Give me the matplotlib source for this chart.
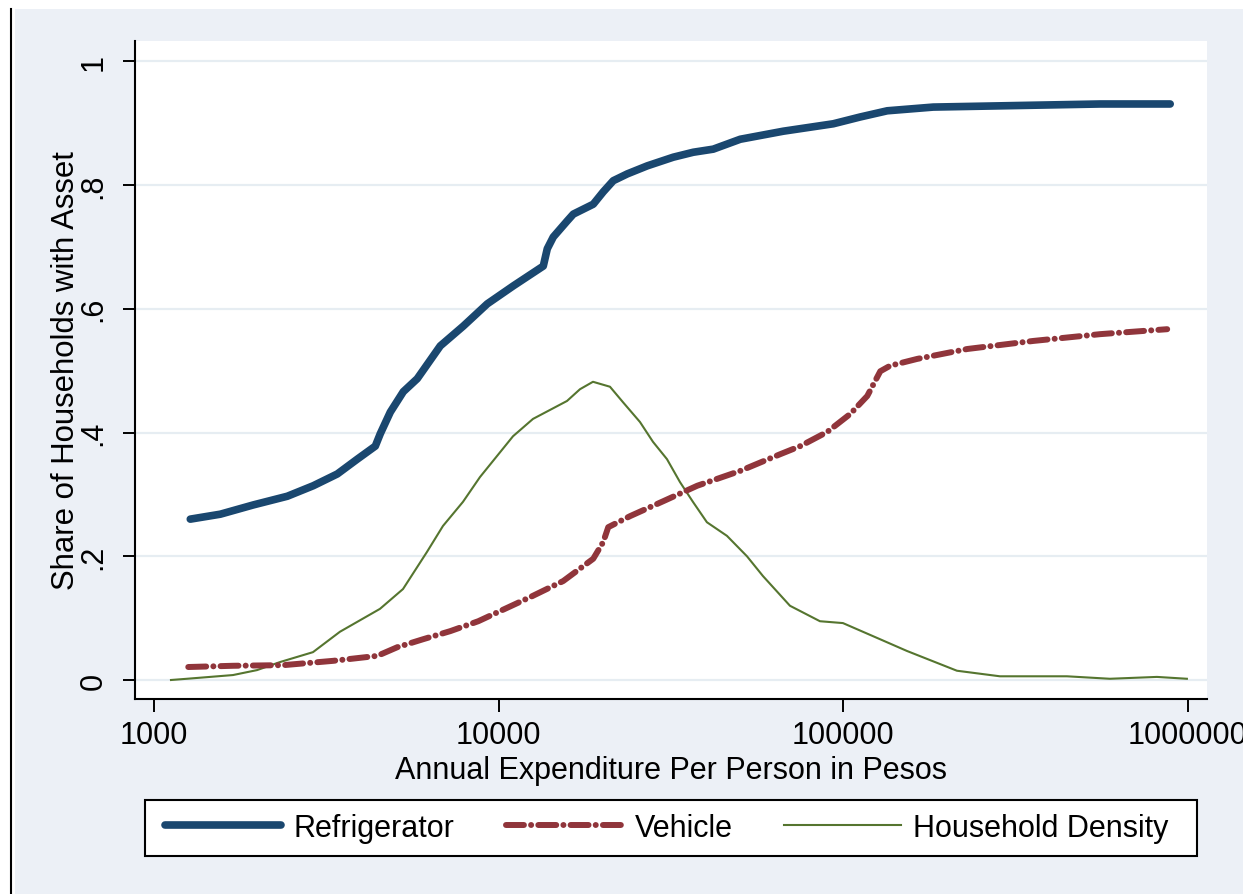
import matplotlib
matplotlib.use('Agg')
import matplotlib.pyplot as plt
from matplotlib.patches import Rectangle
from matplotlib.lines import Line2D

plt.rcParams['font.family'] = ['Liberation Sans', 'DejaVu Sans']

# expenditure (pesos) and shares
fridge_x = [1272, 1555, 1939, 2433, 2894, 3398, 3885, 4381, 4529, 4843, 5283, 5799,
            6764, 7889, 9262, 11020, 13465, 13830, 14395, 15803, 16458, 18805, 20104,
            21498, 23607, 26984, 32102, 36692, 41941, 50232, 66957, 93540, 112000,
            134200, 182500, 285600, 557200, 889500]
fridge_y = [0.260, 0.268, 0.283, 0.297, 0.314, 0.333, 0.357, 0.378, 0.398, 0.433, 0.466,
            0.487, 0.540, 0.572, 0.608, 0.637, 0.669, 0.697, 0.716, 0.742, 0.753, 0.769,
            0.789, 0.807, 0.818, 0.831, 0.845, 0.853, 0.858, 0.874, 0.887, 0.899, 0.910,
            0.920, 0.926, 0.928, 0.931, 0.931]

vehicle_x = [1255, 1696, 2369, 3308, 4440, 5075, 6037, 7232, 8719, 12343, 15388, 18805,
             20104, 20787, 24083, 30029, 37690, 50234, 65640, 75030, 89870, 104800,
             117400, 128100, 136900, 164000, 229100, 356000, 557200, 871800]
vehicle_y = [0.021, 0.023, 0.024, 0.031, 0.039, 0.053, 0.066, 0.079, 0.095, 0.134, 0.160,
             0.196, 0.223, 0.247, 0.265, 0.289, 0.314, 0.338, 0.365, 0.378, 0.401, 0.430,
             0.459, 0.499, 0.508, 0.519, 0.535, 0.548, 0.559, 0.567]

density_x = [1118, 1244, 1692, 1987, 2317, 2888, 3459, 4520, 5272, 6188, 6887, 7873, 8819,
             11000, 12570, 15780, 17210, 18770, 21030, 22940, 25700, 28030, 30780, 33570,
             36610, 40200, 45960, 52540, 58470, 70040, 85580, 99800, 127800, 153000,
             213800, 285000, 446000, 594500, 814000, 994500]
density_y = [0.000, 0.002, 0.008, 0.016, 0.029, 0.045, 0.078, 0.115, 0.147, 0.207, 0.249,
             0.288, 0.328, 0.394, 0.422, 0.451, 0.470, 0.482, 0.474, 0.449, 0.417, 0.385,
             0.357, 0.320, 0.288, 0.255, 0.233, 0.200, 0.168, 0.120, 0.095, 0.092, 0.066,
             0.047, 0.015, 0.006, 0.006, 0.002, 0.005, 0.002]

xticks = [1000, 10000, 100000, 1000000]
xticklabels = ['1000', '10000', '100000', '1000000']
yticks = [0, 0.2, 0.4, 0.6, 0.8, 1]
yticklabels = ['0', '.2', '.4', '.6', '.8', '1']

W, H = 1243, 895
fs = 22

fig = plt.figure(figsize=(W / 100, H / 100), dpi=100)
fig.patch.set_facecolor('white')
# stata style outer region + left rule
fig.add_artist(Rectangle((15 / W, 0), 1 - 15 / W, 1 - 10 / H, transform=fig.transFigure,
                         facecolor='#ECF0F6', edgecolor='none', zorder=-10))
fig.add_artist(Line2D([11 / W, 11 / W], [0, 1 - 10 / H], transform=fig.transFigure,
                      color='black', lw=1.5))

ax = fig.add_axes([135 / W, 1 - 700 / H, 1072 / W, 658 / H])
ax.set_facecolor('white')
ax.set_xscale('log')

l1, = ax.plot(fridge_x, fridge_y, color='#1A476F', lw=5.5, solid_capstyle='round',
              solid_joinstyle='round', label='Refrigerator', zorder=3)
l2, = ax.plot(vehicle_x, vehicle_y, color='#90353B', lw=4.3,
              linestyle=(0, (3.0, 1.2, 0.01, 1.2)), dash_capstyle='round',
              label='Vehicle', zorder=3)
l3, = ax.plot(density_x, density_y, color='#55752F', lw=1.5, label='Household Density',
              zorder=2)

ax.set_xlim(879, 1137600)
ax.set_ylim(-0.0307, 1.0328)

ax.set_xticks(xticks)
ax.set_xticklabels(xticklabels, fontsize=fs)
ax.minorticks_off()
ax.set_yticks(yticks)
ax.set_yticklabels(yticklabels, fontsize=fs, rotation=90, va='center')

ax.yaxis.grid(True, color='#E6EDF2', lw=1.6)
ax.set_axisbelow(True)

for s in ['top', 'right']:
    ax.spines[s].set_visible(False)
for s in ['left', 'bottom']:
    ax.spines[s].set_linewidth(1.5)
ax.tick_params(axis='both', length=9, width=1.4, direction='out')
ax.tick_params(axis='y', pad=10)
ax.tick_params(axis='x', pad=6)

ax.set_xlabel('Annual Expenditure Per Person in Pesos', fontsize=fs, labelpad=4)
ax.set_ylabel('Share of Households with Asset', fontsize=22.4, labelpad=-2)

# legend
fig.add_artist(Rectangle((145 / W, 1 - 857 / H), 1052 / W, 56 / H, transform=fig.transFigure,
                         facecolor='white', edgecolor='black', lw=1.5, zorder=1))
leg = fig.legend([l1, l2, l3], ['Refrigerator', 'Vehicle', 'Household Density'],
                 loc='center left', bbox_to_anchor=(165 / W, 1 - 829 / H), ncol=3,
                 frameon=False, fontsize=fs, handlelength=3.8, handletextpad=0.4,
                 columnspacing=1.7, borderaxespad=0, borderpad=0)
leg.set_zorder(2)

fig.savefig('out.png', dpi=100)
